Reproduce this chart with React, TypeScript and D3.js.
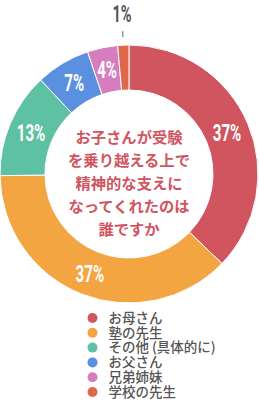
import React from 'react';
import * as d3 from 'd3';

const categories = ['お母さん', '塾の先生', 'その他 (具体的に)', 'お父さん', '兄弟姉妹', '学校の先生'];
const values = [37.2, 37.6, 13.2, 6.8, 3.8, 1.4];
const labels = ['37%', '37%', '13%', '7%', '4%', '1%'];
const colors = ['#D0555F', '#F2A541', '#5EC1A3', '#5B8FE0', '#D57DBE', '#E0684A'];
const titleLines = ['お子さんが受験', 'を乗り越える上で', '精神的な支えに', 'なってくれたのは', '誰ですか'];

const W = 259, H = 400;
const CX = 129, CY = 174;
const R_OUT = 129, R_IN = 84;
const JP = '"Noto Sans CJK JP", "Noto Sans", sans-serif';

export default function App() {
  const pie = d3.pie<number>().sort(null).startAngle(0).endAngle(2 * Math.PI);
  const arcs = pie(values);
  const arc = d3.arc<d3.PieArcDatum<number>>().innerRadius(R_IN).outerRadius(R_OUT);
  const outer = d3.arc<d3.PieArcDatum<number>>().innerRadius(161).outerRadius(161);
  const tickIn = d3.arc<d3.PieArcDatum<number>>().innerRadius(137).outerRadius(137);
  const tickOut = d3.arc<d3.PieArcDatum<number>>().innerRadius(143).outerRadius(143);
  const legendY = d3.scaleLinear().domain([0, categories.length - 1]).range([318, 392]);

  return (
    <svg width={W} height={H} style={{ position: 'absolute', left: 0, top: 0, background: '#fff' }}>
      <g transform={`translate(${CX},${CY})`}>
        {arcs.map((a, i) => (
          <path key={i} d={arc(a) || ''} fill={colors[i]} stroke="#fff" strokeWidth={1} />
        ))}
        {arcs.map((a, i) => {
          if (values[i] < 2) {
            const [lx, ly] = outer.centroid(a);
            const [x1, y1] = tickIn.centroid(a);
            const [x2, y2] = tickOut.centroid(a);
            return (
              <g key={i}>
                <line x1={x1} y1={y1} x2={x2} y2={y2} stroke="#666" strokeWidth={1} />
                <text transform={`translate(${lx},${ly}) scale(0.66,1.08)`} textAnchor="middle" dy="0.36em"
                  fontFamily="Roboto, sans-serif" fontWeight={700} fontSize={22} fill="#555">{labels[i]}</text>
              </g>
            );
          }
          const [x, y] = arc.centroid(a);
          return (
            <text key={i} transform={`translate(${x},${y}) scale(0.63,1)`} textAnchor="middle" dy="0.36em"
              fontFamily="Roboto, sans-serif" fontWeight={700} fontSize={24} fill="#fff">{labels[i]}</text>
          );
        })}
        {titleLines.map((t, i) => (
          <text key={i} x={0} y={-37 + i * 23} textAnchor="middle" dy="0.36em"
            fontFamily={JP} fontWeight={700} fontSize={15.3} fill="#D0555F">{t}</text>
        ))}
      </g>
      <g>
        {categories.map((c, i) => (
          <g key={i} transform={`translate(0,${legendY(i)})`}>
            <circle cx={92.5} cy={0} r={5} fill={colors[i]} />
            <text x={108.5} y={0} dy="0.36em" fontFamily={JP} fontWeight={500} fontSize={13.5} fill="#555">{c}</text>
          </g>
        ))}
      </g>
    </svg>
  );
}
